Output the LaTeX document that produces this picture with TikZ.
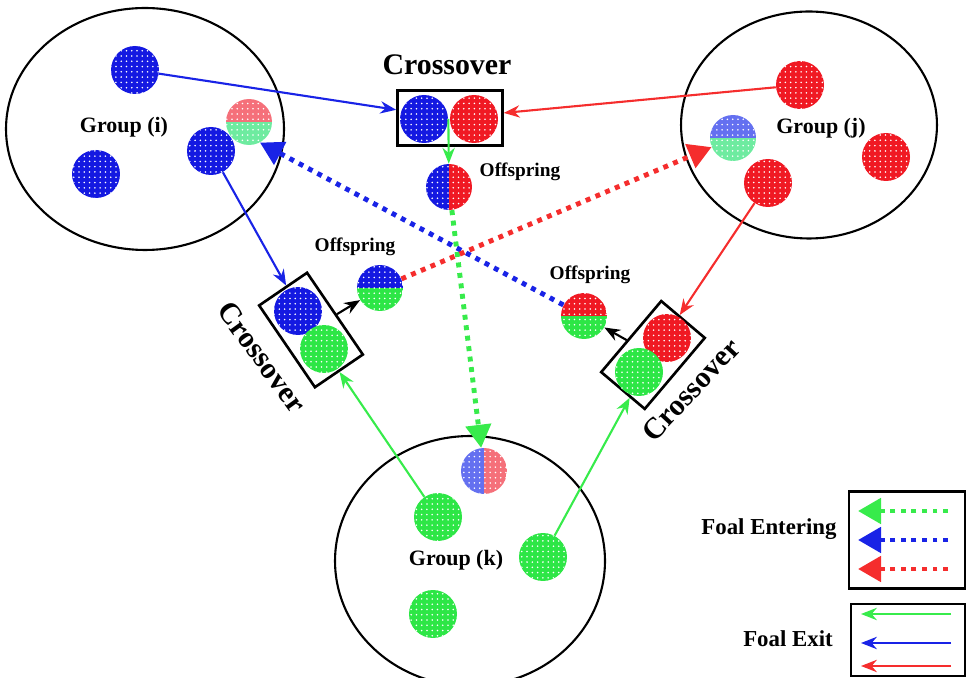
\documentclass[tikz,border=0pt]{standalone}
\usepackage{fontspec}
\setmainfont{Liberation Serif}
\usetikzlibrary{arrows.meta,patterns,shapes.geometric}
\definecolor{fblue}{RGB}{20,25,225}
\definecolor{fred}{RGB}{240,25,35}
\definecolor{fgreen}{RGB}{45,230,70}
\definecolor{pblue}{RGB}{100,112,240}
\definecolor{pred}{RGB}{245,112,122}
\definecolor{pgreen}{RGB}{110,235,160}
\definecolor{lblue}{RGB}{25,35,230}
\definecolor{lred}{RGB}{245,45,45}
\definecolor{lgreen}{RGB}{55,235,75}
\pgfmathsetmacro{\foaldiam}{0.96}
\pgfmathsetmacro{\halfdiam}{0.92}
\tikzset{
  foal/.style={circle, inner sep=0pt, minimum size=\foaldiam cm, fill=#1,
    postaction={pattern=dots, pattern color=white}},
  halfh/.style 2 args={circle, inner sep=0pt, minimum size=\halfdiam cm,
    path picture={
      \fill[#1] (path picture bounding box.north west) rectangle (path picture bounding box.east);
      \fill[#2] (path picture bounding box.west) rectangle (path picture bounding box.south east);
      \fill[pattern=dots, pattern color=white] (path picture bounding box.north west) rectangle (path picture bounding box.south east);
    }},
  halfv/.style 2 args={circle, inner sep=0pt, minimum size=\halfdiam cm,
    path picture={
      \fill[#1] (path picture bounding box.north west) rectangle (path picture bounding box.south);
      \fill[#2] (path picture bounding box.north) rectangle (path picture bounding box.south east);
      \fill[pattern=dots, pattern color=white] (path picture bounding box.north west) rectangle (path picture bounding box.south east);
    }},
  group/.style={ellipse, draw, line width=1.2pt, inner sep=0pt},
  crossbox/.style={rectangle, draw, line width=1.5pt, inner sep=0pt},
  exit/.style={line width=1.2pt, -{Stealth[length=9pt,width=7pt]}},
  enter/.style={line width=2.8pt, dash pattern=on 2.8pt off 3.2pt,
    -{Triangle[length=0.46cm,width=0.5cm]}},
  crosslbl/.style={font=\bfseries\fontsize{17}{20}\selectfont},
  offlbl/.style={font=\bfseries\fontsize{11}{13}\selectfont},
  grplbl/.style={font=\bfseries\fontsize{12.5}{15}\selectfont},
  leglbl/.style={font=\bfseries\fontsize{13}{16}\selectfont},
}
\begin{document}
\begin{tikzpicture}[x=0.02cm, y=-0.02cm]
    \useasboundingbox (0,0) rectangle (967,678);
    % groups
    \node[group, minimum width=5.56cm, minimum height=4.84cm] (grp_i) at (145,129) {};
    \node[group, minimum width=5.12cm, minimum height=4.54cm] (grp_j) at (809,125) {};
    \node[group, minimum width=5.4cm, minimum height=5cm] (grp_k) at (470,561) {};
    \node[grplbl] (lbl_i) at (124,127) {Group (i)};
    \node[grplbl] (lbl_j) at (821,128) {Group (j)};
    \node[grplbl] (lbl_k) at (456,560) {Group (k)};
    % foals in the groups
    \node[foal=fblue] (i_a) at (135,70) {};
    \node[foal=fblue] (i_b) at (96,174) {};
    \node[foal=fblue] (i_c) at (211,151) {};
    \node[halfh={pred}{pgreen}] (i_new) at (249,122) {};
    \node[foal=fred] (j_a) at (800,85) {};
    \node[foal=fred] (j_b) at (886,157) {};
    \node[foal=fred] (j_c) at (768,183) {};
    \node[halfh={pblue}{pgreen}] (j_new) at (733,138) {};
    \node[foal=fgreen] (k_a) at (438,517) {};
    \node[foal=fgreen] (k_b) at (543,557) {};
    \node[foal=fgreen] (k_c) at (433,614) {};
    \node[halfv={pblue}{pred}] (k_new) at (484,471) {};
    % crossover i x j
    \node[crossbox, minimum width=2.1cm, minimum height=1.1cm] (cross_ij) at (450,118) {};
    \node[foal=fblue] (ij_i) at (424,119) {};
    \node[foal=fred] (ij_j) at (474,119) {};
    \node[halfv={fblue}{fred}] (off_ij) at (449,187) {};
    \node[crosslbl] (clbl_ij) at (447,65) {Crossover};
    \node[offlbl] (olbl_ij) at (520,172) {Offspring};
    % crossover i x k
    \node[crossbox, rotate=-55.7, minimum width=1.98cm, minimum height=1.16cm] (cross_ik) at (311,330) {};
    \node[foal=fblue] (ik_i) at (298,311) {};
    \node[foal=fgreen] (ik_k) at (324,349) {};
    \node[halfh={fblue}{fgreen}] (off_ik) at (380,288) {};
    \node[crosslbl, rotate=-54] (clbl_ik) at (262,357) {Crossover};
    \node[offlbl] (olbl_ik) at (355,247) {Offspring};
    % crossover j x k
    \node[crossbox, rotate=49.8, minimum width=1.86cm, minimum height=1.14cm] (cross_jk) at (653,355) {};
    \node[foal=fred] (jk_j) at (667,338) {};
    \node[foal=fgreen] (jk_k) at (639,372) {};
    \node[halfh={fred}{fgreen}] (off_jk) at (584,316) {};
    \node[crosslbl, rotate=47] (clbl_jk) at (691,390) {Crossover};
    \node[offlbl] (olbl_jk) at (590,275) {Offspring};
    % foal exit
    \draw[exit, lblue] (i_a) -- (cross_ij);
    \draw[exit, lred] (j_a) -- (cross_ij);
    \draw[exit, lgreen] (ij_i.east) -- (off_ij);
    \draw[exit, lblue] (i_c) -- (cross_ik);
    \draw[exit, lgreen] (k_a) -- (cross_ik);
    \draw[exit, lred] (j_c) -- (cross_jk);
    \draw[exit, lgreen] (k_b) -- (cross_jk);
    \draw[exit, black] (cross_ik) -- (off_ik);
    \draw[exit, black] (cross_jk) -- (off_jk);
    % foal entering
    \draw[enter, lgreen] (off_ij) -- (k_new);
    \draw[enter, lblue] (off_jk) -- (i_new.-62);
    \draw[enter, lred] (off_ik) -- (j_new);
    % legend
    \node[crossbox, minimum width=2.32cm, minimum height=1.94cm] (leg_enter) at (907,540) {};
    \node[crossbox, minimum width=2.28cm, minimum height=1.44cm] (leg_exit) at (908,640) {};
    \node[leglbl] (lbl_enter) at (769,529) {Foal Entering};
    \node[leglbl] (lbl_exit) at (788,639) {Foal Exit};
    \foreach \col/\yy in {lgreen/511, lblue/540, lred/569} {
        \coordinate (\col_from) at (948,\yy);
        \coordinate (\col_to) at (858,\yy);
        \draw[enter, \col] (\col_from) -- (\col_to);
    }
    \foreach \col/\yy in {lgreen/614, lblue/643, lred/666} {
        \coordinate (\col_out) at (951,\yy);
        \coordinate (\col_in) at (861,\yy);
        \draw[exit, \col] (\col_out) -- (\col_in);
    }
\end{tikzpicture}
\end{document}
